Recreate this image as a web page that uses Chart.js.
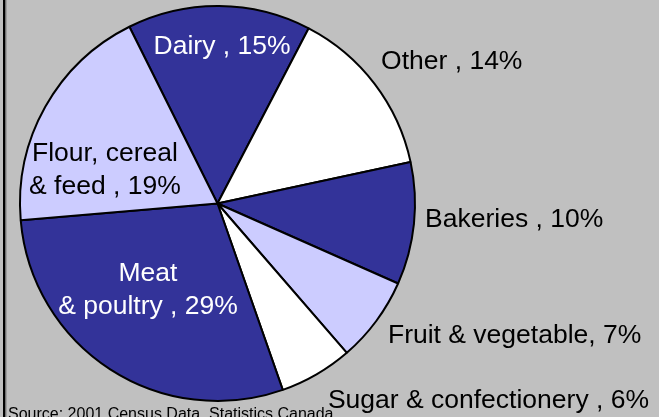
<!DOCTYPE html>
<html>
<head>
<meta charset="utf-8">
<script src="https://cdn.jsdelivr.net/npm/chart.js@4"></script>
<style>
  html, body { margin: 0; padding: 0; background: #c0c0c0; overflow: hidden; }
  canvas { display: block; }
</style>
</head>
<body>
<canvas id="chart" width="659" height="417"></canvas>
<script>
// slices go clockwise starting from Dairy
const categories = ["Dairy", "Other", "Bakeries", "Fruit & vegetable", "Sugar & confectionery", "Meat & poultry", "Flour, cereal & feed"];
const shares = [15, 14, 10, 7, 6, 29, 19];
const labelText = [
  ["Dairy , 15%"],
  ["Other , 14%"],
  ["Bakeries , 10%"],
  ["Fruit & vegetable, 7%"],
  ["Sugar & confectionery , 6%"],
  ["Meat", "& poultry , 29%"],
  ["Flour, cereal", "& feed , 19%"]
];
const sourceNote = "Source: 2001 Census Data, Statistics Canada";

const sliceColors = ["#333399", "#ffffff", "#333399", "#ccccff", "#ffffff", "#333399", "#ccccff"];

// label anchor relative to pie centre, in units of the radius
const labelLayout = [
  { fx: 0.023, fy: -0.795, align: "center", color: "#ffffff" },
  { fx: 0.828, fy: -0.72, align: "left", color: "#000000" },
  { fx: 1.051, fy: 0.08, align: "left", color: "#000000" },
  { fx: 0.863, fy: 0.67, align: "left", color: "#000000" },
  { fx: 0.559, fy: 1.0, align: "left", color: "#000000" },
  { fx: -0.352, fy: 0.438, align: "center", color: "#ffffff" },
  { fx: -0.57, fy: -0.17, align: "center", color: "#000000" }
];

const labelPlugin = {
  id: "sliceLabels",
  beforeDraw(chart) {
    const ctx = chart.ctx;
    ctx.save();
    ctx.fillStyle = "#000000";
    ctx.fillRect(3, 0, 2.5, chart.height);
    ctx.fillStyle = "#808080";
    ctx.fillRect(5.5, 0, 1, chart.height);
    ctx.restore();
  },
  afterDraw(chart) {
    const ctx = chart.ctx;
    const arcs = chart.getDatasetMeta(0).data;
    ctx.save();
    ctx.font = "26.5px 'Liberation Sans', Arial, sans-serif";
    ctx.textBaseline = "middle";
    const lineH = 33;
    arcs.forEach((arc, i) => {
      const lay = labelLayout[i];
      const r = arc.outerRadius;
      const lines = labelText[i];
      const x = arc.x + lay.fx * r;
      const y0 = arc.y + lay.fy * r - (lines.length - 1) * lineH / 2;
      ctx.fillStyle = lay.color;
      ctx.textAlign = lay.align;
      lines.forEach((t, k) => ctx.fillText(t, x, y0 + k * lineH));
    });
    ctx.font = "16px 'Liberation Sans', Arial, sans-serif";
    ctx.fillStyle = "#000000";
    ctx.textAlign = "left";
    ctx.textBaseline = "alphabetic";
    ctx.fillText(sourceNote, 8, 419);
    ctx.restore();
  }
};

new Chart(document.getElementById("chart"), {
  type: "pie",
  data: {
    labels: categories,
    datasets: [{
      data: shares,
      backgroundColor: sliceColors,
      borderColor: "#000000",
      borderWidth: 2
    }]
  },
  options: {
    responsive: false,
    animation: false,
    rotation: -26.5,
    layout: { padding: { left: 19, right: 243, top: 5, bottom: 15 } },
    plugins: {
      legend: { display: false },
      tooltip: { enabled: false }
    }
  },
  plugins: [labelPlugin]
});
</script>
</body>
</html>
